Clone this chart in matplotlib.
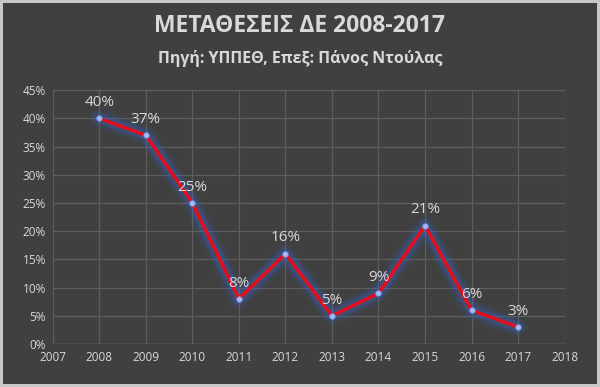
import matplotlib
matplotlib.use("Agg")
import matplotlib.pyplot as plt
from matplotlib.ticker import FuncFormatter, MultipleLocator

plt.rcParams["font.family"] = ["Open Sans", "DejaVu Sans"]

years = [2008, 2009, 2010, 2011, 2012, 2013, 2014, 2015, 2016, 2017]
pct = [40, 37, 25, 8, 16, 5, 9, 21, 6, 3]
title = "ΜΕΤΑΘΕΣΕΙΣ ΔΕ 2008-2017"
subtitle = "Πηγή: ΥΠΠΕΘ, Επεξ: Πάνος Ντούλας"

BG = "#404040"
GRID = "#5e5e5e"
TXT = "#d9d9d9"

fig = plt.figure(figsize=(6.0, 3.87), dpi=100)
fig.patch.set_facecolor(BG)
fig.patch.set_edgecolor("#c8c8c8")
fig.patch.set_linewidth(3)

ax = fig.add_axes([0.088, 0.111, 0.853, 0.656])
ax.set_facecolor(BG)

# soft blue glow under the line
for lw, a in [(14, 0.06), (11, 0.09), (8, 0.14), (5, 0.22)]:
    ax.plot(years, pct, color="#2f6fe6", lw=lw, alpha=a, solid_capstyle="round",
            solid_joinstyle="round", zorder=2)
ax.plot(years, pct, color="#e0101a", lw=2.6, zorder=3, solid_joinstyle="round")
ax.plot(years, pct, "o", ms=4, color="#a9b8f0", mec="#6f8fe8", mew=0.6, zorder=4)

for x, y in zip(years, pct):
    ax.annotate(f"{y}%", (x, y), xytext=(0, 6), textcoords="offset points",
                ha="center", va="bottom", color=TXT, fontsize=11)

ax.set_xlim(2007, 2018)
ax.set_ylim(0, 45)
ax.xaxis.set_major_locator(MultipleLocator(1))
ax.yaxis.set_major_locator(MultipleLocator(5))
ax.yaxis.set_major_formatter(FuncFormatter(lambda v, _: f"{v:.0f}%"))
ax.grid(True, color=GRID, lw=0.9)
ax.set_axisbelow(True)
for s in ax.spines.values():
    s.set_visible(False)
ax.axhline(0, color="#7a7a7a", lw=1, zorder=1)
ax.tick_params(length=0, colors=TXT, labelsize=8.5, pad=5)

fig.text(0.5, 0.932, title, ha="center", va="center", color=TXT,
         fontsize=16.5, fontweight="bold")
fig.text(0.5, 0.850, subtitle, ha="center", va="center", color=TXT,
         fontsize=11.5, fontweight="bold")

fig.savefig("out.png", dpi=100, facecolor=fig.get_facecolor(),
            edgecolor=fig.get_edgecolor())
